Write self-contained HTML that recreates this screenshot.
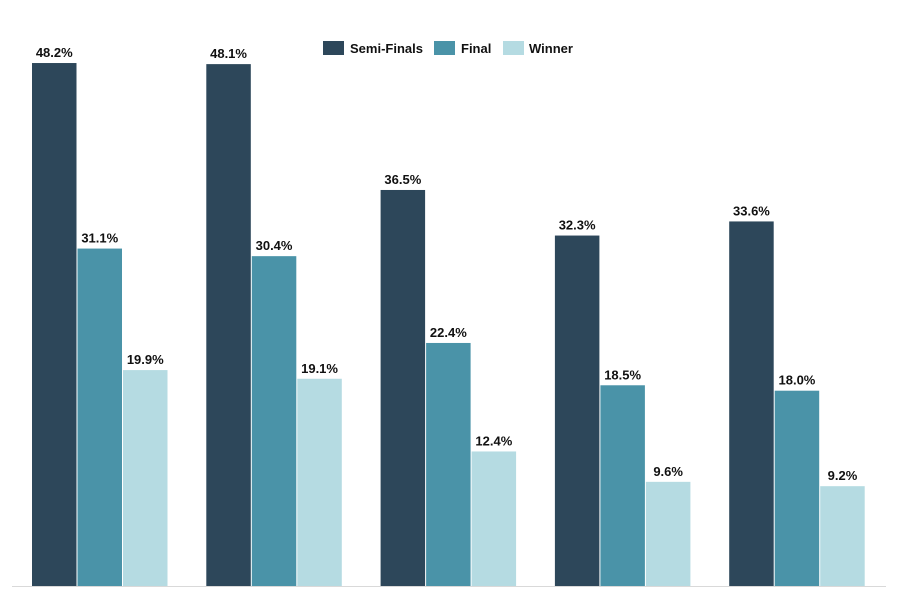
<!DOCTYPE html>
<html><head><meta charset="utf-8"><style>
body{margin:0;background:#fff;}
svg{display:block;font-family:"Liberation Sans",Arial,sans-serif;}
</style></head><body>
<svg id="chart" width="898" height="594" viewBox="0 0 898 594">
<line x1="12" y1="586.5" x2="886" y2="586.5" stroke="#d9d9d9" stroke-width="1"/>
<g font-size="13" font-weight="bold" fill="#111">
 <rect x="323" y="41" width="21" height="14" fill="#2d475a"/>
 <text x="350" y="53">Semi-Finals</text>
 <rect x="434" y="41" width="21" height="14" fill="#4a93a8"/>
 <text x="461" y="53">Final</text>
 <rect x="503" y="41" width="21" height="14" fill="#b5dbe2"/>
 <text x="529" y="53">Winner</text>
</g>
<g id="bars"></g>
</svg>
<script>
const categories = ["Group 1","Group 2","Group 3","Group 4","Group 5"];
const semiFinals = [48.2, 48.1, 36.5, 32.3, 33.6];
const finals = [31.1, 30.4, 22.4, 18.5, 18.0];
const winners = [19.9, 19.1, 12.4, 9.6, 9.2];
const seriesNames = ["semi-finals","final","winner"];
const colors = ["#2d475a","#4a93a8","#b5dbe2"];
const baseY = 586, pxPer = 10.85;
function y(v){ return baseY - v*pxPer; }
function x(groupIdx, seriesIdx){ return 32 + groupIdx*174.3 + seriesIdx*45.5; }
const ns = "http://www.w3.org/2000/svg";
const g = document.getElementById("bars");
[semiFinals, finals, winners].forEach((arr, s) => {
  arr.forEach((v, i) => {
    const r = document.createElementNS(ns, "rect");
    r.setAttribute("x", x(i, s));
    r.setAttribute("y", y(v));
    r.setAttribute("width", 44.5);
    r.setAttribute("height", baseY - y(v));
    r.setAttribute("fill", colors[s]);
    
    
    g.appendChild(r);
    const t = document.createElementNS(ns, "text");
    t.setAttribute("x", x(i, s) + 22.25);
    t.setAttribute("y", y(v) - 6);
    t.setAttribute("text-anchor", "middle");
    t.setAttribute("font-size", "13");
    t.setAttribute("font-weight", "bold");
    t.setAttribute("fill", "#111");
    t.textContent = v.toFixed(1) + "%";
    
    
    g.appendChild(t);
  });
});
</script>
</body></html>
